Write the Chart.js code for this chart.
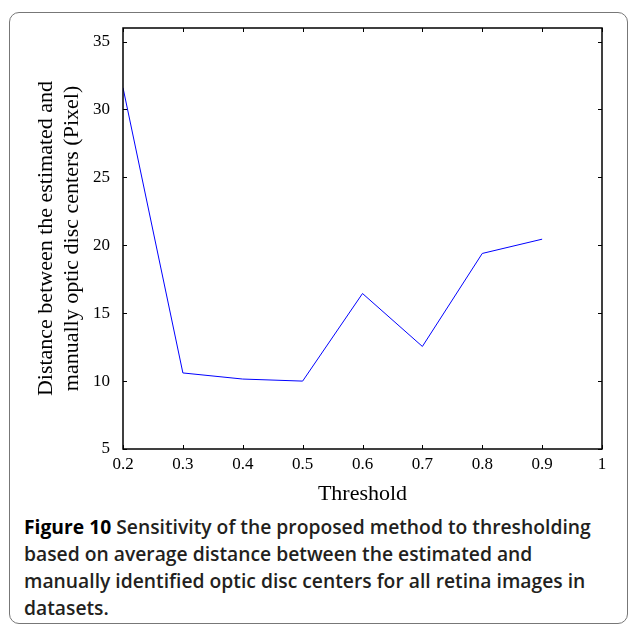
<!doctype html>
<html lang="en">
<head>
  <meta charset="utf-8">
  <title>Figure 10</title>
  <script src="https://cdn.jsdelivr.net/npm/chart.js"></script>
  <style>
    body { margin: 0; background: #fff; }
    #wrap { position: relative; width: 629px; height: 626px; overflow: hidden; }
    #frame {
      position: absolute; left: 9px; top: 12px; width: 619px; height: 612px;
      box-sizing: border-box; border: 1.5px solid #777; border-radius: 10px;
    }
    #chart { position: absolute; left: 0; top: 0; }
    #caption {
      position: absolute; left: 24px; top: 513px; width: 604px;
      font-family: "Open Sans", sans-serif; font-size: 19.3px; font-weight: 600;
      line-height: 27px; color: #231f20; white-space: nowrap;
    }
    #caption b { font-weight: 700; color: #000; }
  </style>
</head>
<body>
  <div id="wrap">
    <div id="frame"></div>
    <canvas id="chart" width="629" height="512"></canvas>
    <div id="caption">
      <div><b>Figure 10</b> Sensitivity of the proposed method to thresholding</div>
      <div>based on average distance between the estimated and</div>
      <div>manually identified optic disc centers for all retina images in</div>
      <div>datasets.</div>
    </div>
  </div>

  <script>
    const thresholds = [0.2, 0.3, 0.4, 0.5, 0.6, 0.7, 0.8, 0.9];
    const distances = [31.6, 10.6, 10.15, 10.0, 16.45, 12.55, 19.4, 20.45];
    const xTitle = 'Threshold';
    const yTitle = ['Distance between the estimated and', 'manually optic disc centers (Pixel)'];

    // MATLAB style box with inward ticks on all four sides
    const boxTicks = {
      id: 'boxTicks',
      afterDraw(chart) {
        const { ctx, chartArea: a, scales: { x, y } } = chart;
        const len = 4;
        ctx.save();
        ctx.strokeStyle = '#000';
        ctx.lineWidth = 1;
        x.ticks.forEach(t => {
          const px = Math.round(x.getPixelForValue(t.value)) + 0.5;
          ctx.beginPath();
          ctx.moveTo(px, a.bottom); ctx.lineTo(px, a.bottom - len);
          ctx.moveTo(px, a.top); ctx.lineTo(px, a.top + len);
          ctx.stroke();
        });
        y.ticks.forEach(t => {
          const py = Math.round(y.getPixelForValue(t.value)) + 0.5;
          ctx.beginPath();
          ctx.moveTo(a.left, py); ctx.lineTo(a.left + len, py);
          ctx.moveTo(a.right, py); ctx.lineTo(a.right - len, py);
          ctx.stroke();
        });
        ctx.lineWidth = 1.5;
        ctx.strokeRect(a.left, a.top, a.right - a.left, a.bottom - a.top);
        ctx.restore();
      }
    };

    new Chart(document.getElementById('chart'), {
      type: 'line',
      data: {
        datasets: [{
          data: thresholds.map((t, i) => ({ x: t, y: distances[i] })),
          borderColor: '#0000ff',
          borderWidth: 1,
          pointRadius: 0,
          tension: 0,
          fill: false
        }]
      },
      options: {
        responsive: false,
        animation: false,
        layout: { padding: { top: 28, right: 27, left: 0, bottom: 0 } },
        plugins: { legend: { display: false }, tooltip: { enabled: false } },
        scales: {
          x: {
            type: 'linear',
            min: 0.2, max: 1,
            grid: { display: false },
            border: { display: false },
            ticks: {
              stepSize: 0.1,
              padding: -3,
              color: '#000',
              font: { family: 'Liberation Serif', size: 17 },
              callback: v => String(+v.toFixed(1))
            },
            title: {
              display: true, text: xTitle, color: '#000',
              font: { family: 'Liberation Serif', size: 22 },
              padding: { top: 0, bottom: 5 }
            },
            afterFit: s => { s.height = 63; }
          },
          y: {
            min: 5, max: 36,
            grid: { display: false },
            border: { display: false },
            ticks: {
              stepSize: 5,
              includeBounds: false,
              padding: 5,
              color: '#000',
              font: { family: 'Liberation Serif', size: 17 }
            },
            title: {
              display: true, text: yTitle, color: '#000',
              font: { family: 'Liberation Serif', size: 22 },
              padding: { top: 33, bottom: 0 }
            },
            afterFit: s => { s.width = 123; }
          }
        }
      },
      plugins: [boxTicks]
    });
  </script>
</body>
</html>
